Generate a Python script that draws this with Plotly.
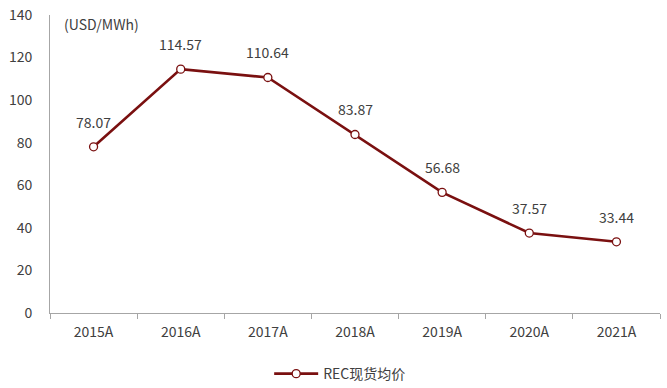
import plotly.graph_objects as go

years = ["2015A", "2016A", "2017A", "2018A", "2019A", "2020A", "2021A"]
rec_price = [78.07, 114.57, 110.64, 83.87, 56.68, 37.57, 33.44]
y_ticks = [0, 20, 40, 60, 80, 100, 120, 140]
series_name = "REC现货均价"
unit_label = "(USD/MWh)"

line_color = "#7a1010"
text_color = "#404040"
axis_color = "#a6a6a6"
font_family = "Noto Sans CJK SC, Noto Sans, sans-serif"

fig = go.Figure()
fig.add_trace(go.Scatter(
    x=years, y=rec_price, mode="lines+markers", name=series_name,
    line=dict(color=line_color, width=2.6),
    marker=dict(symbol="circle", size=8, color="white",
                line=dict(color=line_color, width=1.3)),
))

for x, v in zip(years, rec_price):
    fig.add_annotation(x=x, y=v, text=f"{v:.2f}", showarrow=False,
                       yshift=25, font=dict(size=14, color=text_color, family=font_family))

fig.add_annotation(xref="paper", yref="paper", x=0.02, y=0.97, xanchor="left", yanchor="middle",
                   text=unit_label, showarrow=False,
                   font=dict(size=14, color=text_color, family=font_family))

fig.update_layout(
    width=667, height=388,
    margin=dict(l=50, r=7, t=15, b=75, autoexpand=False),
    paper_bgcolor="white", plot_bgcolor="white",
    font=dict(family=font_family, size=14, color=text_color),
    showlegend=True,
    legend=dict(orientation="h", xref="container", yref="container",
                x=0.51, xanchor="center", y=0.036, yanchor="middle",
                font=dict(size=14, color=text_color), itemwidth=44),
    xaxis=dict(type="category", categoryorder="array", categoryarray=years,
               showline=True, linecolor=axis_color, linewidth=1,
               ticks="outside", tickson="boundaries", ticklen=5, tickcolor=axis_color,
               showgrid=False, zeroline=False, range=[-0.5, 6.5],
               ticklabelstandoff=6, automargin=False),
    yaxis=dict(range=[0, 140], tickvals=y_ticks, showline=True, linecolor=axis_color,
               linewidth=1, showgrid=False, zeroline=False, ticks="",
               ticklabelstandoff=14, automargin=False),
)

fig.write_html("out.html", config={"displayModeBar": False},
               post_script="document.body.style.margin='0';")
